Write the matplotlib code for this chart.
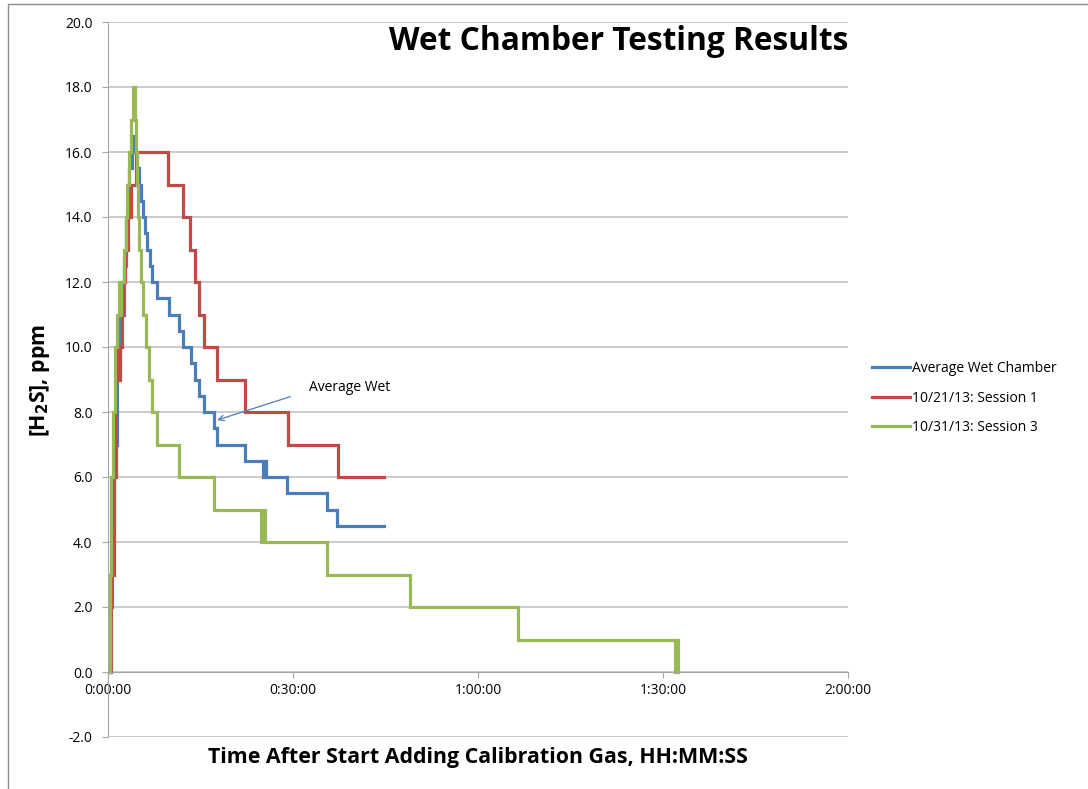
import matplotlib
matplotlib.use("Agg")
import matplotlib.pyplot as plt
from matplotlib.ticker import FuncFormatter, MultipleLocator
from matplotlib.patches import Rectangle

# Step-change points, time in minutes after start, concentration in ppm
avg_t = [0.0, 0.15, 0.3, 0.6, 0.95, 1.45, 1.9, 2.6, 2.9, 3.2, 3.45, 3.9, 4.4, 4.7,
         5.05, 5.35, 5.7, 6.0, 6.35, 6.8, 7.15, 7.95, 9.9, 11.5, 12.2, 13.5, 14.1,
         14.8, 15.6, 17.2, 17.7, 22.2, 25.2, 25.3, 25.55, 29.05, 35.55, 37.2, 44.8]
avg_v = [0.0, 0.0, 2.0, 4.5, 7.0, 9.5, 11.0, 12.5, 14.0, 15.0, 15.5, 16.5, 16.0, 15.5,
         15.0, 14.5, 14.0, 13.5, 13.0, 12.5, 12.0, 11.5, 11.0, 10.5, 10.0, 9.5, 9.0,
         8.5, 8.0, 7.5, 7.0, 6.5, 6.0, 6.5, 6.0, 5.5, 5.0, 4.5, 4.5]

s1_t = [0.0, 0.15, 0.5, 0.9, 1.3, 1.6, 1.75, 1.95, 2.3, 2.45, 2.75, 3.25, 3.65, 4.6,
        9.8, 12.1, 13.3, 14.1, 14.8, 15.5, 17.6, 22.2, 29.2, 37.3, 44.8]
s1_v = [0.0, 0.0, 3.0, 6.0, 9.0, 10.0, 9.0, 10.0, 11.0, 12.0, 13.0, 14.0, 15.0, 16.0,
        15.0, 14.0, 13.0, 12.0, 11.0, 10.0, 9.0, 8.0, 7.0, 6.0, 6.0]

s3_t = [0.0, 0.25, 0.5, 0.8, 1.15, 1.45, 1.8, 1.95, 2.1, 2.6, 2.85, 3.1, 3.35, 3.7,
        4.05, 4.35, 4.5, 4.65, 4.8, 5.05, 5.35, 5.75, 6.15, 6.65, 7.15, 8.0, 11.5,
        17.2, 24.85, 25.1, 25.4, 35.55, 49.0, 66.55, 91.9, 92.1, 92.45]
s3_v = [0.0, 3.0, 6.0, 8.0, 10.0, 11.0, 12.0, 11.0, 12.0, 13.0, 14.0, 15.0, 16.0, 17.0,
        18.0, 17.0, 16.0, 15.0, 14.0, 13.0, 12.0, 11.0, 10.0, 9.0, 8.0, 7.0, 6.0,
        5.0, 4.0, 5.0, 4.0, 3.0, 2.0, 1.0, 0.0, 1.0, 0.0]

names = ["Average Wet Chamber", "10/21/13: Session 1", "10/31/13: Session 3"]
colors = ["#4A7EBB", "#BE4B48", "#98B954"]

plt.rcParams['font.family'] = ['Open Sans', 'DejaVu Sans']

fig = plt.figure(figsize=(10.88, 7.89), dpi=100)
W, H = 1088.0, 789.0
ax = fig.add_axes([108 / W, 1 - 737 / H, (848 - 108) / W, (737 - 22) / H])

for t, v, name, c in [(avg_t, avg_v, names[0], colors[0]),
                      (s1_t, s1_v, names[1], colors[1]),
                      (s3_t, s3_v, names[2], colors[2])]:
    ax.plot(t, v, drawstyle="steps-post", color=c, lw=2.3, label=name,
            solid_joinstyle="miter")

ax.set_xlim(0, 120)
ax.set_ylim(-2, 20)
ax.yaxis.set_major_locator(MultipleLocator(2))
ax.xaxis.set_major_locator(MultipleLocator(30))
ax.yaxis.set_major_formatter(FuncFormatter(lambda v, p: "%.1f" % v))


def hms(v, p):
    s = int(round(v * 60))
    return "%d:%02d:%02d" % (s // 3600, (s % 3600) // 60, s % 60)


ax.xaxis.set_major_formatter(FuncFormatter(hms))
ax.grid(axis="y", color="#BEBEBE", lw=1.1)
ax.set_axisbelow(True)
for s in ["top", "right"]:
    ax.spines[s].set_visible(False)
ax.spines["bottom"].set_position(("data", 0))
ax.spines["bottom"].set_color("#A6A6A6")
ax.spines["left"].set_color("#A6A6A6")
ax.tick_params(axis="y", length=4, color="#A6A6A6", labelsize=10, pad=7)
ax.tick_params(axis="x", length=4, color="#A6A6A6", labelsize=10, pad=4)

ax.annotate("Average Wet", xy=(17.7, 7.75), xytext=(32.6, 8.75),
            fontsize=10, va="center", ha="left",
            arrowprops=dict(arrowstyle="->", color="#4A7EBB", lw=0.9,
                            shrinkA=12, shrinkB=0, relpos=(0, 0.3)))

ax.legend(loc="center left", bbox_to_anchor=(1.015, 0.474), frameon=False,
          fontsize=10, handlelength=2.8, handletextpad=0.1, labelspacing=1.05)

fig.text(848 / W, 1 - 42 / H, "Wet Chamber Testing Results", ha="right",
         va="center", fontsize=22.8, fontweight="bold")
fig.text(478 / W, 1 - 758 / H, "Time After Start Adding Calibration Gas, HH:MM:SS",
         ha="center", va="center", fontsize=15.4, fontweight="bold")
fig.text(40 / W, 1 - 380 / H, r"[H$_\mathbf{2}$S], ppm", ha="center",
         va="center", rotation=90, fontsize=15.4, fontweight="bold")

fig.patches.append(Rectangle((8 / W, -0.1), 1.2, 1.1 - 4 / H, transform=fig.transFigure,
                             fill=False, edgecolor="#8C8C8C", lw=1.0))

fig.savefig("out.png", dpi=100)
